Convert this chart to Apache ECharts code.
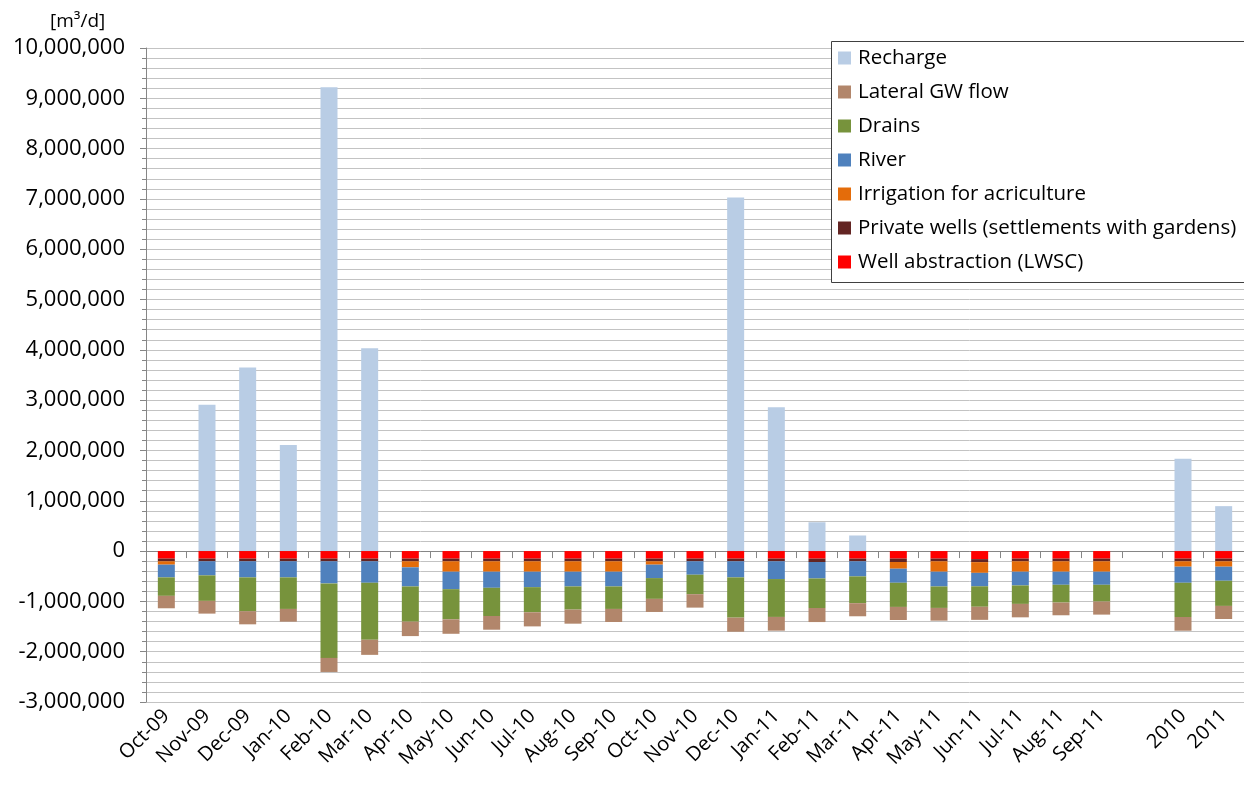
<!DOCTYPE html>
<html>
<head>
<meta charset="utf-8">
<title>Groundwater balance</title>
<script src="https://cdn.jsdelivr.net/npm/echarts@6/dist/echarts.min.js"></script>
<style>
  html, body { margin: 0; padding: 0; background: #fff; }
  #chart { width: 1244px; height: 786px; }
</style>
</head>
<body>
<div id="chart"></div>
<script>
// Monthly water balance terms [m³/d], Oct-09 .. Sep-11 plus yearly means
const categories = ['Oct-09','Nov-09','Dec-09','Jan-10','Feb-10','Mar-10','Apr-10','May-10','Jun-10','Jul-10','Aug-10','Sep-10','Oct-10','Nov-10','Dec-10','Jan-11','Feb-11','Mar-11','Apr-11','May-11','Jun-11','Jul-11','Aug-11','Sep-11','','2010','2011'];

const recharge   = [0, 2910000, 3650000, 2110000, 9220000, 4030000, 0, 0, 0, 0, 0, 0, 0, 0, 7030000, 2860000, 573000, 310000, 0, 0, 0, 0, 0, 0, null, 1833000, 893000];
const wellLWSC   = [-150000, -150000, -150000, -150000, -150000, -150000, -150000, -150000, -150000, -150000, -150000, -150000, -150000, -150000, -150000, -150000, -150000, -150000, -150000, -150000, -160000, -150000, -150000, -150000, null, -150000, -150000];
const privateW   = [-53000, -53000, -53000, -53000, -53000, -53000, -53000, -53000, -53000, -53000, -53000, -53000, -53000, -53000, -53000, -53000, -67000, -53000, -67000, -53000, -60000, -53000, -53000, -53000, null, -53000, -53000];
const irrigation = [-67000, 0, 0, 0, 0, 0, -120000, -207000, -207000, -207000, -207000, -207000, -67000, 0, 0, 0, 0, 0, -133000, -207000, -213000, -207000, -207000, -207000, null, -107000, -107000];
const river      = [-253000, -280000, -320000, -320000, -440000, -427000, -380000, -347000, -320000, -307000, -293000, -293000, -267000, -267000, -320000, -353000, -327000, -300000, -280000, -293000, -267000, -273000, -260000, -260000, null, -320000, -280000];
const drains     = [-367000, -507000, -673000, -627000, -1480000, -1133000, -700000, -600000, -560000, -500000, -460000, -447000, -413000, -387000, -800000, -753000, -587000, -533000, -480000, -427000, -407000, -367000, -353000, -333000, null, -680000, -500000];
const lateral    = [-247000, -253000, -260000, -253000, -280000, -300000, -287000, -287000, -273000, -280000, -280000, -260000, -260000, -267000, -280000, -273000, -280000, -260000, -260000, -253000, -260000, -267000, -253000, -260000, null, -273000, -260000];

const legendOrder = ['Recharge', 'Lateral GW flow', 'Drains', 'River', 'Irrigation for acriculture', 'Private wells (settlements with gardens)', 'Well abstraction (LWSC)'];

const FONT = '"Open Sans", "Liberation Sans", sans-serif';

function bar(name, data, color) {
  return {
    name: name,
    type: 'bar',
    stack: 'balance',
    barWidth: 17,
    data: data,
    itemStyle: { color: color },
    emphasis: { disabled: true }
  };
}

const chart = echarts.init(document.getElementById('chart'), null, { renderer: 'canvas' });

chart.setOption({
  animation: false,
  backgroundColor: '#ffffff',
  title: {
    text: '[m³/d]',
    left: 45,
    top: 7,
    textStyle: { fontFamily: FONT, fontSize: 19, fontWeight: 'normal', color: '#000' }
  },
  // legend frame runs on past the right edge of the canvas
  graphic: [{
    type: 'rect',
    left: 831,
    top: 41,
    shape: { width: 440, height: 241 },
    style: { fill: '#fff', stroke: '#404040', lineWidth: 1 },
    z: 4
  }],
  legend: {
    orient: 'vertical',
    left: 831,
    top: 41,
    data: legendOrder,
    icon: 'rect',
    itemWidth: 13,
    itemHeight: 13,
    itemGap: 10,
    padding: [5, 10, 6, 7],
    borderWidth: 0,
    z: 5,
    textStyle: { fontFamily: FONT, fontSize: 20.5, color: '#000', lineHeight: 24, padding: [0, 0, 0, 2] }
  },
  grid: { left: 146, right: 0, top: 48, bottom: 84, containLabel: false },
  xAxis: {
    type: 'category',
    data: categories,
    boundaryGap: true,
    axisLine: { lineStyle: { color: '#868686', width: 1 } },
    axisTick: { show: true, alignWithLabel: false, length: 7, lineStyle: { color: '#868686' } },
    axisLabel: {
      interval: 0,
      rotate: 45,
      margin: 11,
      fontFamily: FONT,
      fontSize: 20,
      color: '#000'
    },
    splitLine: { show: false }
  },
  yAxis: {
    type: 'value',
    min: -3000000,
    max: 10000000,
    interval: 1000000,
    axisLine: { show: true, lineStyle: { color: '#868686', width: 1 } },
    axisTick: { show: true, length: 6, lineStyle: { color: '#868686' } },
    minorTick: { show: true, splitNumber: 5, length: 4, lineStyle: { color: '#868686' } },
    axisLabel: {
      margin: 21,
      fontFamily: FONT,
      fontSize: 22,
      color: '#000',
      formatter: v => v.toLocaleString('en-US')
    },
    splitLine: { show: true, lineStyle: { color: '#c3c3c3', width: 1 } },
    minorSplitLine: { show: true, lineStyle: { color: '#c3c3c3', width: 1 } }
  },
  series: [
    bar('Recharge', recharge, '#b9cde5'),
    bar('Well abstraction (LWSC)', wellLWSC, '#ff0000'),
    bar('Private wells (settlements with gardens)', privateW, '#632523'),
    bar('Irrigation for acriculture', irrigation, '#e46c0a'),
    bar('River', river, '#4f81bd'),
    bar('Drains', drains, '#77933c'),
    bar('Lateral GW flow', lateral, '#b2866b')
  ]
});
</script>
</body>
</html>
